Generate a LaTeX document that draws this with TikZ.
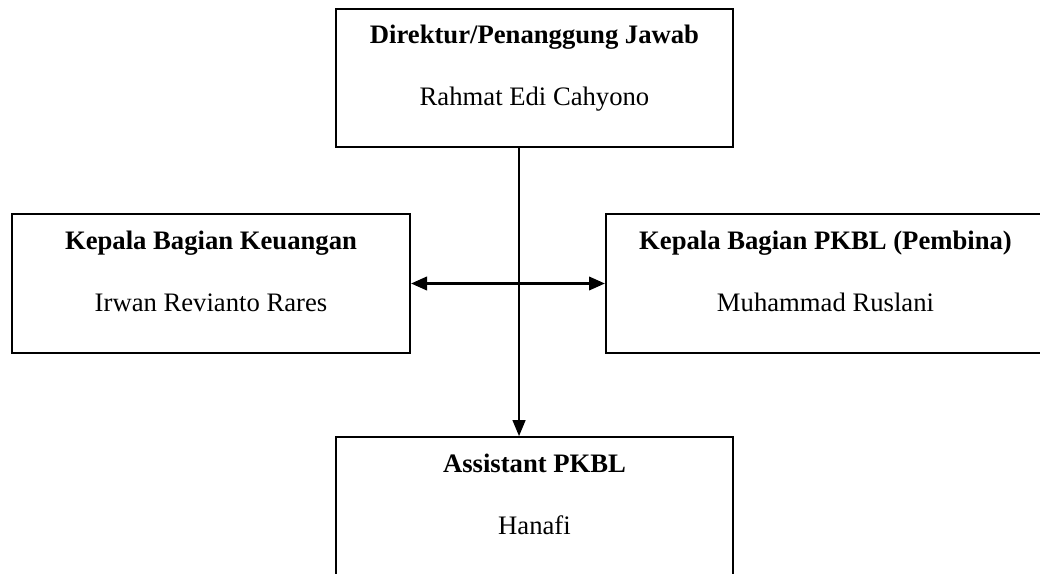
\documentclass[tikz,border=0pt]{standalone}
\usepackage{fontspec}
\setmainfont{Liberation Serif}
\usetikzlibrary{arrows.meta}
\tikzset{
  box/.style={draw, line width=1.5pt, rectangle, minimum height=104pt, inner sep=0pt},
  ttl/.style={anchor=base, font=\fontsize{20pt}{24pt}\selectfont\bfseries, inner sep=0pt},
  nm/.style={anchor=base, font=\fontsize{20pt}{24pt}\selectfont, inner sep=0pt},
  conn/.style={line width=2.1pt, {Triangle[length=12pt,width=10pt]}-{Triangle[length=12pt,width=10pt]}},
  conn1/.style={line width=1.6pt, -{Triangle[length=12pt,width=9.5pt]}}
}
\begin{document}
\begin{tikzpicture}[x=0.75pt,y=-0.75pt]
\useasboundingbox (0,0) rectangle (1040,574);
\clip (0,0) rectangle (1040,574);
\node[box, minimum width=297.75pt, minimum height=103.5pt] (dir) at (534.5,78) {};
\node[box, minimum width=298.5pt] (keu) at (211,283.5) {};
\node[box, minimum width=329.25pt] (pkbl) at (825.5,283.5) {};
\node[box, minimum width=297.75pt] (ast) at (534.5,506.5) {};
\node[ttl] (dirt) at ([yshift=-27pt]dir.north) {Direktur/Penanggung Jawab};
\node[nm] (dirn) at ([yshift=-73.5pt]dir.north) {Rahmat Edi Cahyono};
\node[ttl] (keut) at ([yshift=-27pt]keu.north) {Kepala Bagian Keuangan};
\node[nm] (keun) at ([yshift=-73.5pt]keu.north) {Irwan Revianto Rares};
\node[ttl] (pkblt) at ([yshift=-27pt]pkbl.north) {Kepala Bagian PKBL (Pembina)};
\node[nm] (pkbln) at ([yshift=-73.5pt]pkbl.north) {Muhammad Ruslani};
\node[ttl] (astt) at ([yshift=-27pt]ast.north) {Assistant PKBL};
\node[nm] (astn) at ([yshift=-73.5pt]ast.north) {Hanafi};
\draw[conn1] ([xshift=-11.6pt]dir.south) -- ([xshift=-11.6pt]ast.north);
\draw[conn] (keu.east) -- (pkbl.west);
\end{tikzpicture}
\end{document}
